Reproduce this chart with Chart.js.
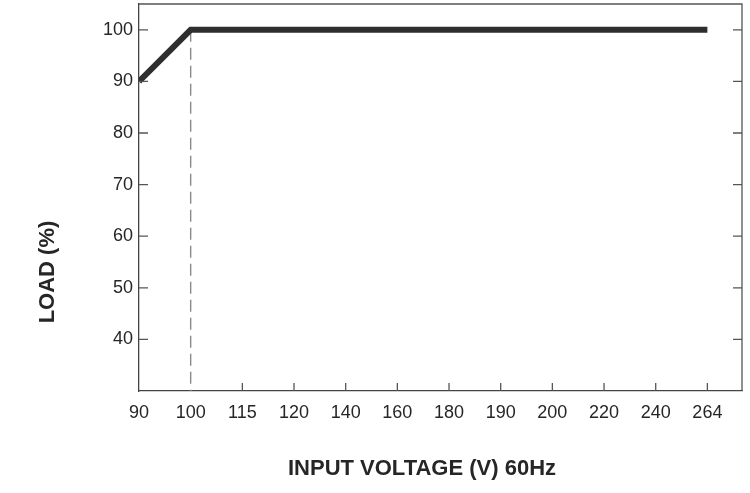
<!DOCTYPE html>
<html>
<head>
<meta charset="utf-8">
<script src="https://cdn.jsdelivr.net/npm/chart.js@4.4.0/dist/chart.umd.min.js"></script>
<style>
html, body { margin: 0; padding: 0; background: #fff; }
#wrap { width: 750px; height: 493px; }
</style>
</head>
<body>
<div id="wrap"><canvas id="grafico"></canvas></div>
<script>
// categorias del eje X (voltaje de entrada)
var etiquetasX = ['90', '100', '115', '120', '140', '160', '180', '190', '200', '220', '240', '264'];
// carga (%) en cada voltaje
var carga = [90, 100, 100, 100, 100, 100, 100, 100, 100, 100, 100, 100];
var ticksY = [40, 50, 60, 70, 80, 90, 100];
var yMin = 30;
var yMax = 105;
var limiteX = '100';
var tituloX = 'INPUT VOLTAGE (V) 60Hz';
var tituloY = 'LOAD (%)';

var fuenteTicks = { family: '"Liberation Sans", Arial, sans-serif', size: 18 };
var colorTexto = '#262626';

var puntos = carga.map(function (v, i) { return { x: i, y: v }; });
var iLimite = etiquetasX.indexOf(limiteX);
var guia = [{ x: iLimite, y: carga[iLimite] }, { x: iLimite, y: yMin }];

var marco = {
    id: 'marco',
    afterDraw: function (chart) {
        var ctx = chart.ctx, a = chart.chartArea;
        var sx = chart.scales.x, sy = chart.scales.y;
        ctx.save();
        ctx.strokeStyle = '#555';
        ctx.lineWidth = 1.3;
        ctx.beginPath();
        ctx.moveTo(a.left, a.top);
        ctx.lineTo(a.right, a.top);
        ctx.lineTo(a.right, a.bottom);
        ctx.stroke();

        // marcas hacia dentro
        ctx.beginPath();
        etiquetasX.forEach(function (e, i) {
            if (i <= iLimite) return;
            var px = sx.getPixelForValue(i);
            ctx.moveTo(px, a.bottom);
            ctx.lineTo(px, a.bottom - 8);
        });
        ticksY.forEach(function (v) {
            var py = sy.getPixelForValue(v);
            ctx.moveTo(a.left, py);
            ctx.lineTo(a.left + 9, py);
            ctx.moveTo(a.right, py);
            ctx.lineTo(a.right - 9, py);
        });
        ctx.stroke();

        // titulos
        ctx.fillStyle = colorTexto;
        ctx.font = 'bold 22px "Liberation Sans", Arial, sans-serif';
        ctx.textAlign = 'center';
        ctx.textBaseline = 'middle';
        ctx.fillText(tituloX, 422, 469);
        ctx.translate(48, 272);
        ctx.rotate(-Math.PI / 2);
        ctx.fillText(tituloY, 0, 0);
        ctx.restore();
    }
};

var ctx = document.getElementById('grafico');
var grafico = new Chart(ctx, {
    type: 'line',
    data: {
        datasets: [{
            data: puntos,
            borderColor: '#2e2e2e',
            borderWidth: 6,
            pointRadius: 0,
            borderCapStyle: 'butt',
            borderJoinStyle: 'miter',
            tension: 0
        }, {
            data: guia,
            borderColor: '#8a8a8a',
            borderWidth: 1.4,
            borderDash: [12, 6],
            pointRadius: 0
        }]
    },
    options: {
        responsive: true,
        maintainAspectRatio: false,
        animation: false,
        layout: { padding: { top: 4, right: 8, left: 0, bottom: 0 } },
        plugins: { legend: { display: false }, tooltip: { enabled: false } },
        scales: {
            x: {
                type: 'linear',
                min: 0,
                max: 11.67,
                afterBuildTicks: function (s) {
                    s.ticks = etiquetasX.map(function (e, i) { return { value: i }; });
                },
                afterFit: function (s) {
                    s.height = 102;
                    s.paddingLeft = 0;
                    s.paddingRight = 0;
                },
                grid: { display: false, drawTicks: false },
                border: { display: true, color: '#444', width: 1.3 },
                ticks: {
                    autoSkip: false,
                    maxRotation: 0,
                    padding: 11,
                    color: colorTexto,
                    font: fuenteTicks,
                    callback: function (v) { return etiquetasX[v]; }
                }
            },
            y: {
                min: yMin,
                max: yMax,
                afterBuildTicks: function (s) {
                    s.ticks = ticksY.map(function (v) { return { value: v }; });
                },
                afterFit: function (s) {
                    s.width = 139;
                    s.paddingTop = 0;
                    s.paddingBottom = 0;
                },
                grid: { display: false, drawTicks: false },
                border: { display: true, color: '#444', width: 1.3 },
                ticks: {
                    padding: 6,
                    color: colorTexto,
                    font: fuenteTicks
                }
            }
        }
    },
    plugins: [marco]
});
</script>
</body>
</html>
